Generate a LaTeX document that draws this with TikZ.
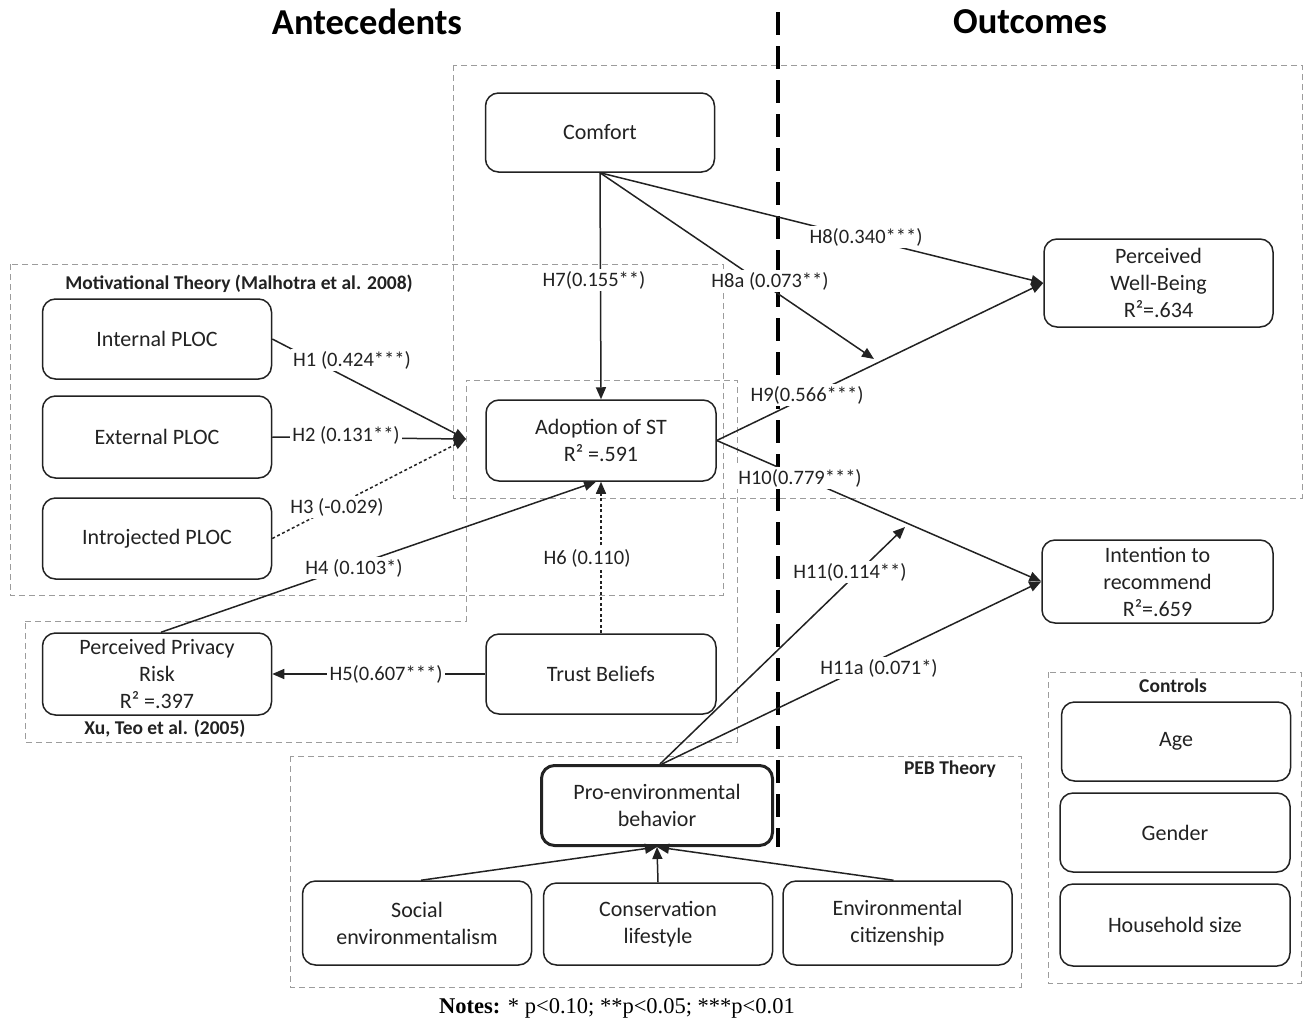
\documentclass[tikz,border=0pt]{standalone}
\usepackage{fontspec}
\setmainfont{Carlito}
\newfontfamily\notesfont{Liberation Serif}
\usetikzlibrary{arrows.meta}
\definecolor{ink}{HTML}{222222}
\definecolor{grp}{HTML}{9C9C9C}
\tikzset{
  box/.style={draw=ink, line width=1.5pt, rounded corners=13pt, fill=white,
    minimum width=229pt, minimum height=81pt, align=center, inner sep=2pt,
    text=ink, font=\fontsize{22}{27}\selectfont},
  thickbox/.style={box, line width=3pt},
  grpbox/.style={draw=grp, line width=1pt, dash pattern=on 6pt off 4pt},
  conn/.style={draw=ink, line width=1.5pt, -{Triangle[length=12pt,width=10pt]}},
  dotconn/.style={conn, dash pattern=on 3pt off 2.5pt},
  lab/.style={fill=white, inner sep=2.5pt, text=ink, font=\fontsize{20.5}{24}\selectfont},
  grplab/.style={inner sep=0pt, text=ink, font=\bfseries\fontsize{19.5}{22}\selectfont},
  titlelab/.style={inner sep=0pt, text=black, font=\bfseries\fontsize{36.5}{40}\selectfont},
  divider/.style={draw=black, line width=3.8pt, dash pattern=on 23pt off 11pt},
}
\begin{document}
\begin{tikzpicture}[x=1pt,y=-1pt]
\useasboundingbox (0,0) rectangle (1304,1023);

% group frames
\draw[grpbox] (453,65) rectangle (1302,498);
\draw[grpbox] (10,264) rectangle (723,595);
\draw[grpbox] (25,621) -- (466,621) -- (466,380) -- (737,380) -- (737,742) -- (25,742) -- cycle;
\draw[grpbox] (290,756) rectangle (1021,987);
\draw[grpbox] (1048,672) rectangle (1301,983);

% titles
\node[titlelab] (tA) at (367,22) {Antecedents};
\node[titlelab] (tO) at (1030,22) {Outcomes};

% divider
\coordinate (dtop) at (778,12);
\coordinate (dbot) at (778,847);
\draw[divider] (dtop) -- (dbot);

% group labels
\node[grplab] (gM) at (239,284) {Motivational Theory (Malhotra et al. 2008)};
\node[grplab] (gX) at (165,729) {Xu, Teo et al. (2005)};
\node[grplab] (gP) at (950,769) {PEB Theory};
\node[grplab] (gC) at (1173,686) {Controls};

% nodes
\node[box, minimum height=79pt] (Comfort) at (600,132.5) {Comfort};
\node[box, minimum height=88pt] (PWB) at (1158.5,283) {Perceived\\Well-Being\\R²=.634};
\node[box, minimum height=80pt] (IntP) at (157,339) {Internal PLOC};
\node[box, minimum height=82pt] (ExtP) at (157,437) {External PLOC};
\node[box] (IntroP) at (157,538.5) {Introjected PLOC};
\node[box, minimum width=230pt] (Adopt) at (601,440.5) {Adoption of ST\\R² =.591};
\node[box, minimum width=231pt, minimum height=83pt] (Intent) at (1157.5,581.5) {Intention to\\recommend\\R²=.659};
\node[box, minimum height=82pt] (PPR) at (157,674) {Perceived Privacy\\Risk\\R² =.397};
\node[box, minimum width=230pt, minimum height=80pt] (Trust) at (601,674) {Trust Beliefs};
\node[thickbox, minimum width=231pt, minimum height=80pt] (PE) at (657,805.5) {Pro-environmental\\behavior};
\node[box, minimum height=84pt] (Soc) at (417,923) {Social\\environmentalism};
\node[box, minimum height=82pt] (Cons) at (658,924) {Conservation\\lifestyle};
\node[box, minimum height=84pt] (Env) at (897.5,923) {Environmental\\citizenship};
\node[box, minimum height=79pt] (Age) at (1176,741.5) {Age};
\node[box, minimum width=230pt, minimum height=79pt] (Gender) at (1175,832.5) {Gender};
\node[box, minimum width=230pt, minimum height=82pt] (House) at (1175,925) {Household size};

% helper coordinates
\coordinate (conv) at (466,439);
\coordinate (h8at) at (874,359);
\coordinate (h11t) at (905,527);

% connectors
\draw[conn] (IntP.east) -- (conv);
\draw[conn] (ExtP.east) -- (conv);
\draw[dotconn] (IntroP.east) -- (conv);
\draw[conn] ([xshift=4pt]PPR.north) -- ([xshift=-5pt]Adopt.south);
\draw[conn] (Trust.west) -- (PPR.east);
\draw[dotconn] (Trust.north) -- (Adopt.south);
\draw[conn] (Comfort.south) -- (Adopt.north);
\draw[conn] (Comfort.south) -- (PWB.west);
\draw[conn] (Comfort.south) -- (h8at);
\draw[conn] (Adopt.east) -- (PWB.west);
\draw[conn] (Adopt.east) -- (Intent.west);
\draw[conn] ([xshift=3pt]PE.north) -- (h11t);
\draw[conn] ([xshift=5pt]PE.north) -- (Intent.west);
\draw[conn] ([xshift=4pt]Soc.north) -- (PE.south);
\draw[conn] (Cons.north) -- (PE.south);
\draw[conn] ([xshift=-4pt]Env.north) -- (PE.south);

% connector labels
\node[lab] (l1) at (352,360) {H1 (0.424***)};
\node[lab] (l2) at (346,435) {H2 (0.131**)};
\node[lab] (l3) at (337,507) {H3 (-0.029)};
\node[lab] (l4) at (354,568) {H4 (0.103*)};
\node[lab] (l5) at (386,674) {H5(0.607***)};
\node[lab] (l6) at (587,558) {H6 (0.110)};
\node[lab] (l7) at (594,280) {H7(0.155**)};
\node[lab] (l8a) at (770,281) {H8a (0.073**)};
\node[lab] (l8) at (866,237) {H8(0.340***)};
\node[lab] (l9) at (807,395) {H9(0.566***)};
\node[lab] (l10) at (800,478) {H10(0.779***)};
\node[lab] (l11) at (850,572) {H11(0.114**)};
\node[lab] (l11a) at (879,668) {H11a (0.071*)};

% notes
\node[inner sep=0pt, font=\notesfont\fontsize{22.5}{26}\selectfont] (notes) at (617,1008) {\textbf{Notes:} * p<0.10; **p<0.05; ***p<0.01};
\end{tikzpicture}
\end{document}
